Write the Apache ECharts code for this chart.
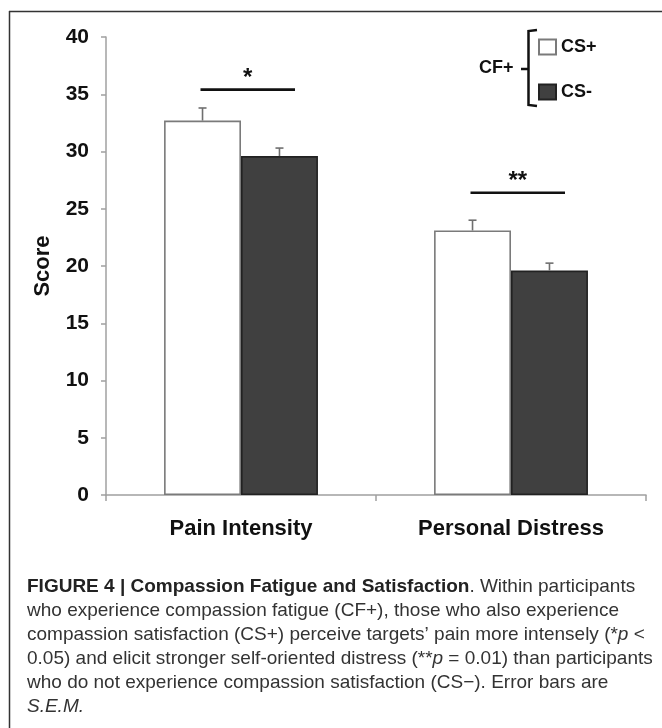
<!DOCTYPE html>
<html>
<head>
<meta charset="utf-8">
<script src="https://cdn.jsdelivr.net/npm/echarts@6/dist/echarts.min.js"></script>
<style>
  html, body { margin: 0; padding: 0; background: #fff; }
  #chart { width: 662px; height: 728px; }
</style>
</head>
<body>
<div id="chart"></div>
<script>
// data
var categories = ['Pain Intensity', 'Personal Distress'];
var csPlus = [32.7, 23.1];
var csPlusErr = [1.1, 0.9];
var csMinus = [29.6, 19.6];
var csMinusErr = [0.7, 0.65];
var sigLevel = [35.4, 26.4];
var sigMarks = ['*', '**'];
var yTicks = [0, 5, 10, 15, 20, 25, 30, 35, 40];

var captionLines = [
  '{b|FIGURE 4 | Compassion Fatigue and Satisfaction}. Within participants',
  'who experience compassion fatigue (CF+), those who also experience',
  'compassion satisfaction (CS+) perceive targets\u2019 pain more intensely (*{i|p} <',
  '0.05) and elicit stronger self-oriented distress (**{i|p} = 0.01) than participants',
  'who do not experience compassion satisfaction (CS\u2212). Error bars are',
  '{i|S.E.M.}'
];

var FONT = '"Liberation Sans", Arial, sans-serif';
var CAT_GAP = 0.43;

var myChart = echarts.init(document.getElementById('chart'));

function errData(vals, errs) {
  return vals.map(function (v, i) { return [i, v, errs[i]]; });
}

// upper-only error bars, shifted onto each bar of the pair
function errorRender(side) {
  return function (params, api) {
    var band = api.size([1, 0])[0];
    var shift = side * band * (1 - CAT_GAP) / 4;
    var base = api.coord([api.value(0), api.value(1)]);
    var top = api.coord([api.value(0), api.value(1) + api.value(2)]);
    var x = base[0] + shift;
    var st = { stroke: '#6f6f6f', lineWidth: 1.6 };
    return {
      type: 'group',
      children: [
        { type: 'line', shape: { x1: x, y1: base[1], x2: x, y2: top[1] }, style: st },
        { type: 'line', shape: { x1: x - 4, y1: top[1], x2: x + 4, y2: top[1] }, style: st }
      ]
    };
  };
}

function sigRender(params, api) {
  var band = api.size([1, 0])[0];
  var p = api.coord([api.value(0), api.value(1)]);
  var x1 = p[0] - band * 0.15;
  var x2 = p[0] + band * 0.2;
  return {
    type: 'group',
    children: [
      { type: 'line', shape: { x1: x1, y1: p[1], x2: x2, y2: p[1] },
        style: { stroke: '#111', lineWidth: 2.6 } },
      { type: 'text', x: (x1 + x2) / 2, y: p[1] - 11,
        style: { text: sigMarks[params.dataIndex], font: 'bold 24px ' + FONT,
                 fill: '#111', align: 'center', verticalAlign: 'middle' } }
    ]
  };
}

var graphics = [
  // figure frame (left and top edges)
  { type: 'line', shape: { x1: 9.5, y1: 11, x2: 9.5, y2: 728 }, style: { stroke: '#333', lineWidth: 1.5 } },
  { type: 'line', shape: { x1: 9, y1: 11.5, x2: 662, y2: 11.5 }, style: { stroke: '#333', lineWidth: 1.5 } },
  // CF+ bracket
  { type: 'text', x: 479, y: 68, style: { text: 'CF+', font: 'bold 18px ' + FONT, fill: '#111', verticalAlign: 'middle' } },
  { type: 'line', shape: { x1: 521, y1: 69, x2: 528, y2: 69 }, style: { stroke: '#111', lineWidth: 2.5 } },
  { type: 'polyline', shape: { points: [[537, 30], [528.5, 31], [528.5, 105], [537, 106]] },
    style: { stroke: '#111', lineWidth: 2.5, fill: null } }
];

captionLines.forEach(function (line, i) {
  graphics.push({
    type: 'text', x: 27, y: 587 + i * 24,
    style: {
      text: line, font: '19px ' + FONT, fill: '#333', verticalAlign: 'middle',
      rich: {
        b: { fontWeight: 'bold', fontSize: 19, fontFamily: FONT, fill: '#222' },
        i: { fontStyle: 'italic', fontSize: 19, fontFamily: FONT, fill: '#333' }
      }
    }
  });
});

var option = {
  backgroundColor: '#fff',
  animation: false,
  grid: { left: 106, top: 37, width: 540, height: 458, containLabel: false },
  legend: {
    data: ['CS+', 'CS-'],
    orient: 'vertical',
    left: 538, top: 38,
    padding: 0,
    itemWidth: 17, itemHeight: 15, itemGap: 27,
    icon: 'rect',
    textStyle: { fontFamily: FONT, fontWeight: 'bold', fontSize: 18, color: '#111' },
    selectedMode: false
  },
  xAxis: {
    type: 'category',
    data: categories,
    axisLine: { lineStyle: { color: '#a0a0a0', width: 1.5 } },
    axisTick: { show: true, length: 6, lineStyle: { color: '#a0a0a0', width: 1.5 } },
    axisLabel: { fontFamily: FONT, fontWeight: 'bold', fontSize: 22, color: '#111', margin: 23 }
  },
  yAxis: {
    type: 'value',
    min: yTicks[0], max: yTicks[yTicks.length - 1], interval: 5,
    name: 'Score', nameLocation: 'middle', nameGap: 52, nameRotate: 90,
    nameTextStyle: { fontFamily: FONT, fontWeight: 'bold', fontSize: 22, color: '#111' },
    axisLine: { show: true, lineStyle: { color: '#a0a0a0', width: 1.5 } },
    axisTick: { show: true, length: 5, lineStyle: { color: '#a0a0a0', width: 1.5 } },
    axisLabel: { fontFamily: FONT, fontWeight: 'bold', fontSize: 21, color: '#111', margin: 17 },
    splitLine: { show: false }
  },
  series: [
    {
      name: 'CS+', type: 'bar', data: csPlus,
      barGap: 0, barCategoryGap: (CAT_GAP * 100) + '%',
      itemStyle: { color: '#ffffff', borderColor: '#7a7a7a', borderWidth: 1.6 }
    },
    {
      name: 'CS-', type: 'bar', data: csMinus,
      barGap: 0, barCategoryGap: (CAT_GAP * 100) + '%',
      itemStyle: { color: '#404040', borderColor: '#222', borderWidth: 1.6 }
    },
    {
      name: 'errPlus', type: 'custom', z: 5, renderItem: errorRender(-1),
      data: errData(csPlus, csPlusErr), encode: { x: 0, y: 1 }
    },
    {
      name: 'errMinus', type: 'custom', z: 5, renderItem: errorRender(1),
      data: errData(csMinus, csMinusErr), encode: { x: 0, y: 1 }
    },
    {
      name: 'sig', type: 'custom', z: 5, renderItem: sigRender,
      data: sigLevel.map(function (v, i) { return [i, v]; }), encode: { x: 0, y: 1 }
    }
  ],
  graphic: graphics
};

myChart.setOption(option);
</script>
</body>
</html>
